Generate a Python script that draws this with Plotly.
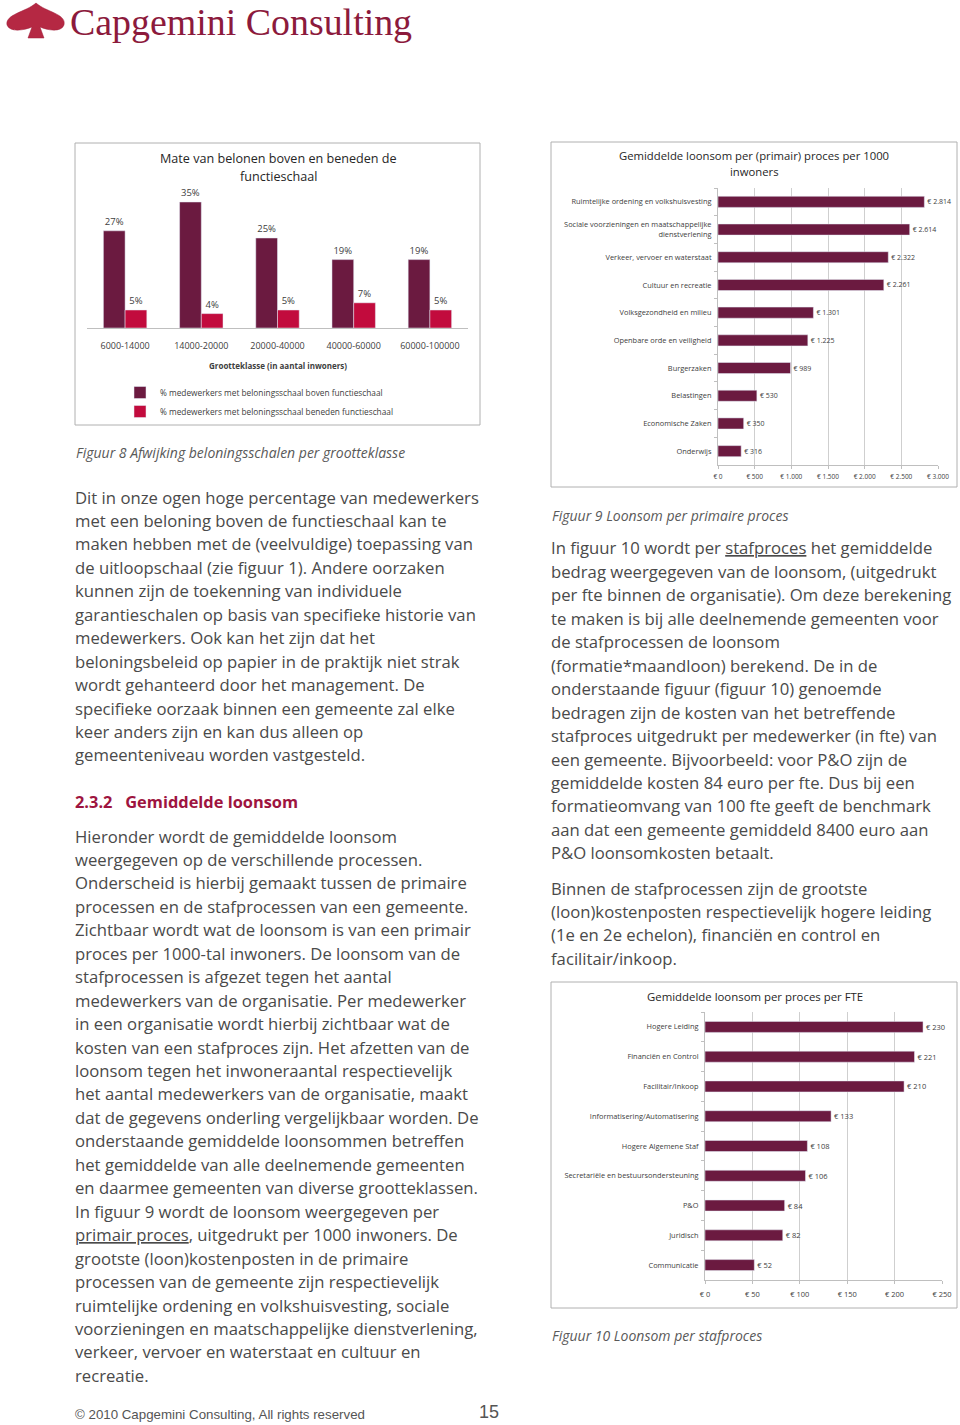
import plotly.graph_objects as go

# ---------------- data ----------------
size_classes = ["6000-14000", "14000-20000", "20000-40000", "40000-60000", "60000-100000"]
pct_above = [27, 35, 25, 19, 19]
pct_below = [5, 4, 5, 7, 5]
series_names = ["% medewerkers met beloningsschaal boven functieschaal",
                "% medewerkers met beloningsschaal beneden functieschaal"]

primary_processes = ["Ruimtelijke ordening en volkshuisvesting",
                     "Sociale voorzieningen en maatschappelijke<br>dienstverlening",
                     "Verkeer, vervoer en waterstaat", "Cultuur en recreatie",
                     "Volksgezondheid en milieu", "Openbare orde en veiligheid",
                     "Burgerzaken", "Belastingen", "Economische Zaken", "Onderwijs"]
primary_values = [2814, 2614, 2322, 2261, 1301, 1225, 989, 530, 350, 316]

staff_processes = ["Hogere Leiding", "Financiën en Control", "Facilitair/Inkoop",
                   "Informatisering/Automatisering", "Hogere Algemene Staf",
                   "Secretariële en bestuursondersteuning", "P&O", "Juridisch", "Communicatie"]
staff_values = [230, 221, 210, 133, 108, 106, 84, 82, 52]

# ---------------- page text ----------------
left_par1 = [
    "Dit in onze ogen hoge percentage van medewerkers",
    "met een beloning boven de functieschaal kan te",
    "maken hebben met de (veelvuldige) toepassing van",
    "de uitloopschaal (zie figuur 1). Andere oorzaken",
    "kunnen zijn de toekenning van individuele",
    "garantieschalen op basis van specifieke historie van",
    "medewerkers. Ook kan het zijn dat het",
    "beloningsbeleid op papier in de praktijk niet strak",
    "wordt gehanteerd door het management. De",
    "specifieke oorzaak binnen een gemeente zal elke",
    "keer anders zijn en kan dus alleen op",
    "gemeenteniveau worden vastgesteld.",
]
left_par2 = [
    "Hieronder wordt de gemiddelde loonsom",
    "weergegeven op de verschillende processen.",
    "Onderscheid is hierbij gemaakt tussen de primaire",
    "processen en de stafprocessen van een gemeente.",
    "Zichtbaar wordt wat de loonsom is van een primair",
    "proces per 1000-tal inwoners. De loonsom van de",
    "stafprocessen is afgezet tegen het aantal",
    "medewerkers van de organisatie. Per medewerker",
    "in een organisatie wordt hierbij zichtbaar wat de",
    "kosten van een stafproces zijn. Het afzetten van de",
    "loonsom tegen het inwoneraantal respectievelijk",
    "het aantal medewerkers van de organisatie, maakt",
    "dat de gegevens onderling vergelijkbaar worden. De",
    "onderstaande gemiddelde loonsommen betreffen",
    "het gemiddelde van alle deelnemende gemeenten",
    "en daarmee gemeenten van diverse grootteklassen.",
    "In figuur 9 wordt de loonsom weergegeven per",
    "<u>primair proces</u>, uitgedrukt per 1000 inwoners. De",
    "grootste (loon)kostenposten in de primaire",
    "processen van de gemeente zijn respectievelijk",
    "ruimtelijke ordening en volkshuisvesting, sociale",
    "voorzieningen en maatschappelijke dienstverlening,",
    "verkeer, vervoer en waterstaat en cultuur en",
    "recreatie.",
]
right_par1 = [
    "In figuur 10 wordt per <u>stafproces</u> het gemiddelde",
    "bedrag weergegeven van de loonsom, (uitgedrukt",
    "per fte binnen de organisatie). Om deze berekening",
    "te maken is bij alle deelnemende gemeenten voor",
    "de stafprocessen de loonsom",
    "(formatie*maandloon) berekend. De in de",
    "onderstaande figuur (figuur 10) genoemde",
    "bedragen zijn de kosten van het betreffende",
    "stafproces uitgedrukt per medewerker (in fte) van",
    "een gemeente. Bijvoorbeeld: voor P&O zijn de",
    "gemiddelde kosten 84 euro per fte. Dus bij een",
    "formatieomvang van 100 fte geeft de benchmark",
    "aan dat een gemeente gemiddeld 8400 euro aan",
    "P&O loonsomkosten betaalt.",
]
right_par2 = [
    "Binnen de stafprocessen zijn de grootste",
    "(loon)kostenposten respectievelijk hogere leiding",
    "(1e en 2e echelon), financiën en control en",
    "facilitair/inkoop.",
]

# ---------------- styling ----------------
W, H = 960, 1425
DARK = "#6B1A40"
RED = "#C20B3D"
BODY = "Open Sans"
TXT = "#4a4a4a"
CHART_TXT = "#404040"
GRID = "#cfcfcf"


def px(x):
    return x / W


def py(y):
    return 1 - y / H


def ann(text, x, y, size, color=TXT, xanchor="left", family=BODY):
    return dict(text=text, x=px(x), y=py(y), xref="paper", yref="paper",
                xanchor=xanchor, yanchor="middle", showarrow=False,
                font=dict(size=size, color=color, family=family))


fig = go.Figure()

# ---- chart 1: grouped columns ----
fig.add_trace(go.Bar(x=size_classes, y=pct_above, name=series_names[0], marker_color=DARK,
                     texttemplate="%{y}%", textposition="outside", cliponaxis=False,
                     textfont=dict(size=9.5, color=CHART_TXT, family=BODY),
                     xaxis="x", yaxis="y", legendgroup="a"))
fig.add_trace(go.Bar(x=size_classes, y=pct_below, name=series_names[1], marker_color=RED,
                     texttemplate="%{y}%", textposition="outside", cliponaxis=False,
                     textfont=dict(size=9.5, color=CHART_TXT, family=BODY),
                     xaxis="x", yaxis="y", legendgroup="b"))

# ---- chart 2: primary processes ----
fig.add_trace(go.Bar(y=primary_processes, x=primary_values, orientation="h", marker_color=DARK,
                     texttemplate="€ %{x:,.0f}", textposition="outside", cliponaxis=False,
                     textfont=dict(size=7, color=CHART_TXT, family=BODY),
                     xaxis="x2", yaxis="y2", showlegend=False, width=0.4))

# ---- chart 3: staff processes ----
fig.add_trace(go.Bar(y=staff_processes, x=staff_values, orientation="h", marker_color=DARK,
                     texttemplate="€ %{x:,.0f}", textposition="outside", cliponaxis=False,
                     textfont=dict(size=7.5, color=CHART_TXT, family=BODY),
                     xaxis="x3", yaxis="y3", showlegend=False, width=0.37))

annotations = []
shapes = []

# chart boxes
for (x0, y0, x1, y1) in [(75, 143, 480, 425), (551, 142, 957, 487), (551, 982, 957, 1308)]:
    shapes.append(dict(type="rect", xref="paper", yref="paper", x0=px(x0), x1=px(x1),
                       y0=py(y0), y1=py(y1), line=dict(color="#b0b0b0", width=1),
                       fillcolor="rgba(0,0,0,0)", layer="below"))

# chart titles
annotations.append(ann("Mate van belonen boven en beneden de", 278, 159, 12.6, "#262626", "center"))
annotations.append(ann("functieschaal", 278, 177, 12.6, "#262626", "center"))
annotations.append(ann("<b>Grootteklasse (in aantal inwoners)</b>", 278, 366, 8, CHART_TXT, "center"))
annotations.append(ann("Gemiddelde loonsom per (primair) proces per 1000", 754, 156, 11.3, "#262626", "center"))
annotations.append(ann("inwoners", 754, 172, 11.3, "#262626", "center"))
annotations.append(ann("Gemiddelde loonsom per proces per FTE", 755, 996, 11.4, "#262626", "center"))

# captions
CAP = "#595959"
annotations.append(ann("<i>Figuur 8 Afwijking beloningsschalen per grootteklasse</i>", 74, 452, 14, CAP))
annotations.append(ann("<i>Figuur 9 Loonsom per primaire proces</i>", 550, 515, 14, CAP))
annotations.append(ann("<i>Figuur 10 Loonsom per stafproces</i>", 550, 1335, 14, CAP))

# body text
STEP = 23.45
BS = 16.7
for i, line in enumerate(left_par1):
    annotations.append(ann(line, 73, 497 + i * STEP, BS))
annotations.append(ann("<b>2.3.2   Gemiddelde loonsom</b>", 73, 801, 16.4, "#9E1440"))
for i, line in enumerate(left_par2):
    annotations.append(ann(line, 73, 836 + i * STEP, BS))
for i, line in enumerate(right_par1):
    annotations.append(ann(line, 549, 548 + i * STEP, BS))
for i, line in enumerate(right_par2):
    annotations.append(ann(line, 549, 888 + i * STEP, BS))

# footer
annotations.append(ann("© 2010 Capgemini Consulting, All rights reserved", 73, 1414, 13.3, "#555555",
                       family="Liberation Sans"))
annotations.append(ann("15", 489, 1412, 18, "#555555", "center", family="Liberation Sans"))

# logo
annotations.append(ann("Capgemini Consulting", 68, 22, 37.9, "#8C1A3C", family="Liberation Serif"))
spade = [(36, 3), "C", (46, 12), (67, 14), (64, 25), "C", (61, 33), (47, 30), (40, 27),
         "L", (44, 38), "L", (28, 38), "L", (32, 27), "C", (25, 30), (10, 33), (7, 25),
         "C", (5, 14), (26, 12), (36, 3)]
path = ""
first = True
for item in spade:
    if isinstance(item, str):
        path += " " + item
    else:
        pre = "M" if first else ""
        path += f" {pre}{px(item[0]):.5f},{py(item[1]):.5f}"
        first = False
path += " Z"
shapes.append(dict(type="path", xref="paper", yref="paper", path=path,
                   fillcolor="#B52843", line=dict(color="#9E1F3A", width=0.5)))

fig.update_layout(
    width=W, height=H, autosize=False,
    margin=dict(l=0, r=0, t=0, b=0, pad=0, autoexpand=False),
    paper_bgcolor="white", plot_bgcolor="white",
    separators=",.",
    barmode="group", bargap=0.43, bargroupgap=0,
    font=dict(family=BODY, color=CHART_TXT),
    showlegend=True,
    legend=dict(x=px(120), y=py(378), xanchor="left", yanchor="top",
                font=dict(size=8.3, color=CHART_TXT, family=BODY),
                bgcolor="rgba(0,0,0,0)", tracegroupgap=0, itemwidth=30,
                traceorder="normal"),
    annotations=annotations,
    shapes=shapes,
    xaxis=dict(domain=[px(87), px(468)], showline=True, linecolor="#bfbfbf", ticks="",
               showgrid=False, zeroline=False, fixedrange=True, automargin=False,
               tickfont=dict(size=9, color=CHART_TXT, family=BODY), ticklabelstandoff=9),
    yaxis=dict(domain=[py(328), py(184)], range=[0, 40], visible=False, fixedrange=True,
               automargin=False),
    xaxis2=dict(domain=[px(718), px(938)], anchor="y2", range=[0, 3000], dtick=500,
                tickprefix="€ ", tickformat=",d", showgrid=True, gridcolor=GRID,
                showline=True, linecolor="#bfbfbf", ticks="outside", ticklen=3,
                tickcolor="#bfbfbf", zeroline=False, automargin=False, ticklabelstandoff=2,
                tickfont=dict(size=6.5, color=CHART_TXT, family=BODY)),
    yaxis2=dict(domain=[py(465), py(188)], anchor="x2", autorange="reversed",
                showline=True, linecolor="#bfbfbf", ticks="outside", ticklen=3,
                tickson="boundaries", tickcolor="#bfbfbf", automargin=False,
                ticklabelstandoff=4,
                tickfont=dict(size=7.4, color=CHART_TXT, family=BODY)),
    xaxis3=dict(domain=[px(705), px(942)], anchor="y3", range=[0, 250], dtick=50,
                tickprefix="€ ", tickformat=",d", showgrid=True, gridcolor=GRID,
                showline=True, linecolor="#bfbfbf", ticks="outside", ticklen=3,
                tickcolor="#bfbfbf", zeroline=False, automargin=False, ticklabelstandoff=4,
                tickfont=dict(size=7.5, color=CHART_TXT, family=BODY)),
    yaxis3=dict(domain=[py(1280), py(1012)], anchor="x3", autorange="reversed",
                showline=True, linecolor="#bfbfbf", ticks="outside", ticklen=3,
                tickson="boundaries", tickcolor="#bfbfbf", automargin=False,
                ticklabelstandoff=4,
                tickfont=dict(size=7.4, color=CHART_TXT, family=BODY)),
)

fig.write_html("out.html",
               config={"displayModeBar": False, "responsive": False},
               post_script="document.body.style.margin='0';"
                           "document.documentElement.style.overflow='hidden';"
                           "document.body.style.overflow='hidden';")
